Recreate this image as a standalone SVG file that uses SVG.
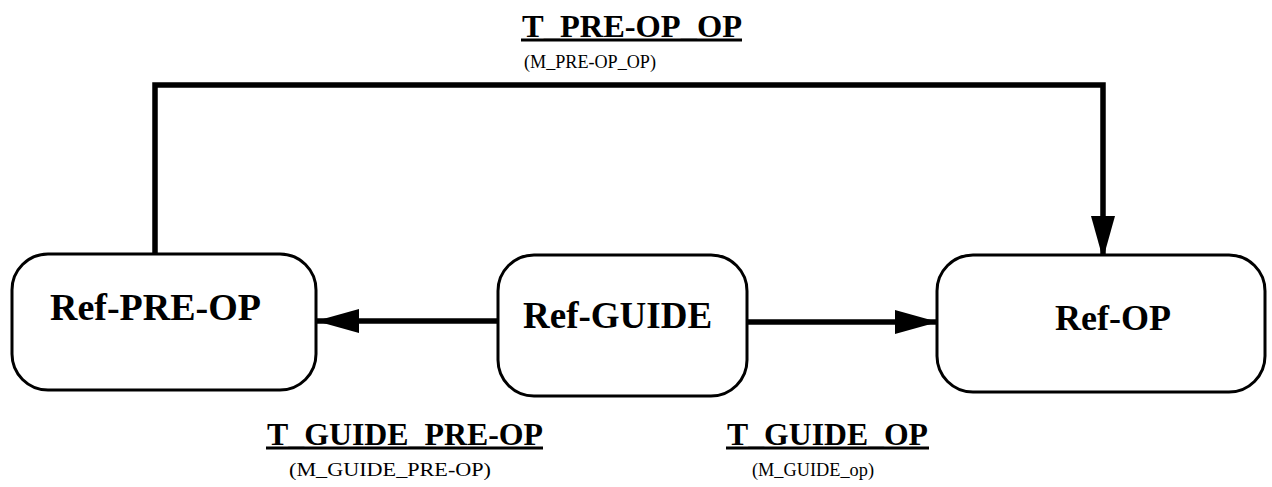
<svg xmlns="http://www.w3.org/2000/svg" width="1272" height="487" viewBox="0 0 1272 487">
<style>
.box{fill:#fff;stroke:#000;stroke-width:3}
.conn{fill:none;stroke:#000;stroke-width:5.5}
.ul{stroke:#000;stroke-width:3}
</style>
<defs>
<marker id="arr" viewBox="0 0 43 24" refX="42" refY="12" markerWidth="43" markerHeight="24" orient="auto" markerUnits="userSpaceOnUse">
<path d="M0,0 L43,12 L0,24 Z" fill="#000"/>
</marker>
</defs>
<g id="connectors">
<polyline class="conn" points="155,253 155,85 1103,85 1103,258" marker-end="url(#arr)"/>
<line class="conn" x1="497" y1="321" x2="317" y2="321" marker-end="url(#arr)"/>
<line class="conn" x1="747" y1="322" x2="937" y2="322" marker-end="url(#arr)"/>
<text font-family="Liberation Serif" font-weight="bold" font-size="32" x="522" y="37" textLength="220" lengthAdjust="spacingAndGlyphs">T_PRE-OP_OP</text>
<line class="ul" x1="521" y1="40" x2="742" y2="40"/>
<text font-family="Liberation Serif" font-size="19" x="524" y="68" textLength="132" lengthAdjust="spacingAndGlyphs">(M_PRE-OP_OP)</text>
<text font-family="Liberation Serif" font-weight="bold" font-size="32" x="267" y="445" textLength="276" lengthAdjust="spacingAndGlyphs">T_GUIDE_PRE-OP</text>
<line class="ul" x1="266" y1="448" x2="543" y2="448"/>
<text font-family="Liberation Serif" font-size="19" x="289" y="476" textLength="202" lengthAdjust="spacingAndGlyphs">(M_GUIDE_PRE-OP)</text>
<text font-family="Liberation Serif" font-weight="bold" font-size="32" x="727" y="445" textLength="201" lengthAdjust="spacingAndGlyphs">T_GUIDE_OP</text>
<line class="ul" x1="726" y1="448" x2="929" y2="448"/>
<text font-family="Liberation Serif" font-size="19" x="752" y="476" textLength="122" lengthAdjust="spacingAndGlyphs">(M_GUIDE_op)</text>
</g>
<g id="ref-pre-op">
<rect class="box" x="12" y="254" width="304" height="136" rx="36" ry="36"/>
<text font-family="Liberation Serif" font-weight="bold" font-size="38" x="50" y="320">Ref-PRE-OP</text>
</g>
<g id="ref-guide">
<rect class="box" x="498" y="255" width="249" height="141" rx="36" ry="36"/>
<text font-family="Liberation Serif" font-weight="bold" font-size="37" x="523" y="328">Ref-GUIDE</text>
</g>
<g id="ref-op">
<rect class="box" x="937" y="255" width="328" height="137" rx="36" ry="36"/>
<text font-family="Liberation Serif" font-weight="bold" font-size="36" x="1055" y="330">Ref-OP</text>
</g>
</svg>
